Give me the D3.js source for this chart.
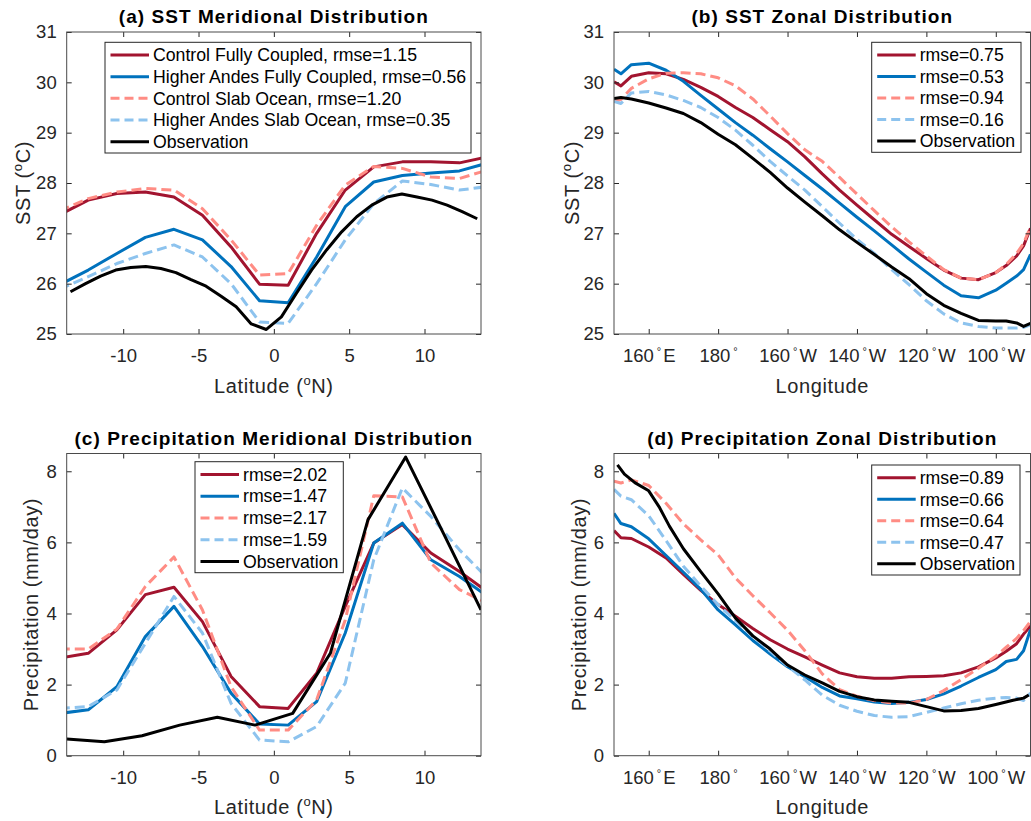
<!DOCTYPE html>
<html>
<head>
<meta charset="utf-8">
<script src="https://cdn.jsdelivr.net/npm/d3@7"></script>
<style>
  body { margin: 0; background: #fff; }
  svg { font-family: "Liberation Sans", Arial, Helvetica, sans-serif; }
</style>
</head>
<body>
<div id="container"></div>
<script>
/* DATA */
// series order: Control Fully Coupled, Higher Andes Fully Coupled, Control Slab Ocean, Higher Andes Slab Ocean, Observation
const seriesNames = ["Control Fully Coupled", "Higher Andes Fully Coupled", "Control Slab Ocean", "Higher Andes Slab Ocean", "Observation"]

// model latitudes (deg N)
const latModel = [-14.21, -12.32, -10.42, -8.53, -6.63, -4.74, -2.84, -0.95, 0.95, 2.84, 4.74, 6.63, 8.53, 10.42, 12.32, 14.21]
const latObsSST = [-13.5, -12.5, -11.5, -10.5, -9.5, -8.5, -7.5, -6.5, -5.5, -4.5, -3.5, -2.5, -1.5, -0.5,
  0.5, 1.5, 2.5, 3.5, 4.5, 5.5, 6.5, 7.5, 8.5, 9.5, 10.5, 11.5, 12.5, 13.5]
const latObsPr = [-13.75, -11.25, -8.75, -6.25, -3.75, -1.25, 1.25, 3.75, 6.25, 8.75, 11.25, 13.75]

// (a) SST meridional
const ctlCplSSTLat = [27.37, 27.66, 27.79, 27.82, 27.72, 27.36, 26.73, 25.99, 25.97, 27.00, 27.86, 28.32, 28.42, 28.42, 28.40, 28.52]
const hiCplSSTLat = [25.98, 26.27, 26.60, 26.92, 27.08, 26.87, 26.34, 25.66, 25.62, 26.53, 27.53, 28.02, 28.15, 28.20, 28.24, 28.40]
const ctlSlabSSTLat = [27.45, 27.69, 27.82, 27.89, 27.86, 27.49, 26.87, 26.17, 26.20, 27.16, 27.96, 28.33, 28.29, 28.12, 28.09, 28.26]
const hiSlabSSTLat = [25.89, 26.14, 26.40, 26.60, 26.77, 26.53, 26.00, 25.24, 25.21, 26.00, 26.87, 27.59, 28.04, 27.97, 27.86, 27.93]
const obsSSTLat = [25.84, 26.00, 26.15, 26.27, 26.32, 26.34, 26.30, 26.22, 26.08, 25.95, 25.75, 25.54, 25.20, 25.09,
  25.34, 25.81, 26.27, 26.67, 27.03, 27.33, 27.56, 27.72, 27.78, 27.72, 27.66, 27.56, 27.43, 27.29]

// (c) precipitation meridional
const ctlCplPrLat = [2.75, 2.88, 3.54, 4.53, 4.74, 3.77, 2.23, 1.38, 1.33, 2.32, 4.20, 5.98, 6.50, 5.70, 5.18, 4.60]
const hiCplPrLat = [1.19, 1.29, 1.94, 3.35, 4.20, 3.07, 1.76, 0.89, 0.86, 1.52, 3.45, 5.98, 6.54, 5.51, 5.04, 4.48]
const ctlSlabPrLat = [3.00, 3.00, 3.56, 4.76, 5.59, 4.10, 1.94, 0.72, 0.72, 1.57, 3.82, 7.31, 7.28, 5.42, 4.67, 4.28]
const hiSlabPrLat = [1.33, 1.38, 1.85, 3.16, 4.48, 3.45, 1.47, 0.44, 0.39, 0.82, 2.04, 5.51, 7.53, 6.73, 5.79, 4.98]
const obsPrLat = [0.47, 0.39, 0.56, 0.86, 1.08, 0.86, 1.19, 2.88, 6.64, 8.40, 6.26, 4.10]

// longitudes (deg E)
const lonModel = [150, 152, 155, 160, 165, 170, 175, 180, 185, 190, 195, 200, 205, 210, 215, 220, 225, 230, 235, 240, 245, 250, 255, 260, 263, 266, 268, 270]
const lonObsPr = [151, 153, 156, 160, 163, 166, 170, 175, 180, 185, 190, 195, 200, 205, 210, 215, 220, 225, 230, 235, 240, 245, 250, 255, 260, 265, 268, 269.5]

// (b) SST zonal
const ctlCplSSTLon = [30.01, 29.93, 30.12, 30.19, 30.17, 30.06, 29.90, 29.72, 29.50, 29.30, 29.06, 28.82, 28.52, 28.18, 27.86, 27.56, 27.27, 26.98, 26.74, 26.50, 26.27, 26.11, 26.08, 26.22, 26.36, 26.55, 26.75, 27.10]
const hiCplSSTLon = [30.26, 30.17, 30.35, 30.38, 30.24, 30.02, 29.74, 29.47, 29.20, 28.95, 28.68, 28.42, 28.15, 27.88, 27.60, 27.32, 27.05, 26.77, 26.49, 26.23, 25.97, 25.76, 25.72, 25.87, 26.01, 26.15, 26.28, 26.58]
const ctlSlabSSTLon = [29.62, 29.66, 29.88, 30.07, 30.18, 30.19, 30.17, 30.09, 29.93, 29.67, 29.33, 28.98, 28.66, 28.43, 28.11, 27.78, 27.45, 27.13, 26.83, 26.55, 26.28, 26.11, 26.08, 26.22, 26.38, 26.60, 26.80, 27.13]
const hiSlabSSTLon = [29.62, 29.58, 29.79, 29.82, 29.75, 29.64, 29.50, 29.30, 29.05, 28.75, 28.43, 28.14, 27.86, 27.53, 27.20, 26.88, 26.60, 26.28, 25.98, 25.66, 25.40, 25.22, 25.15, 25.12, 25.12, 25.12, 25.13, 25.18]
const obsSSTLon = [29.68, 29.70, 29.67, 29.59, 29.49, 29.38, 29.20, 28.97, 28.76, 28.49, 28.21, 27.90, 27.62, 27.35, 27.07, 26.82, 26.58, 26.33, 26.10, 25.80, 25.57, 25.41, 25.27, 25.26, 25.26, 25.22, 25.15, 25.21]

// (d) precipitation zonal
const ctlCplPrLon = [6.33, 6.13, 6.11, 5.87, 5.56, 5.10, 4.65, 4.25, 3.92, 3.58, 3.26, 3.00, 2.78, 2.55, 2.33, 2.22, 2.18, 2.18, 2.22, 2.23, 2.25, 2.33, 2.50, 2.75, 2.94, 3.15, 3.42, 3.65]
const hiCplPrLon = [6.82, 6.53, 6.44, 6.10, 5.63, 5.16, 4.68, 4.10, 3.68, 3.24, 2.86, 2.50, 2.22, 1.92, 1.68, 1.60, 1.51, 1.47, 1.50, 1.58, 1.74, 1.96, 2.20, 2.42, 2.65, 2.71, 2.95, 3.55]
const ctlSlabPrLon = [7.72, 7.67, 7.76, 7.60, 7.10, 6.52, 6.07, 5.65, 5.00, 4.50, 4.02, 3.53, 2.95, 2.30, 1.86, 1.67, 1.55, 1.48, 1.48, 1.58, 1.83, 2.14, 2.46, 2.80, 3.05, 3.30, 3.52, 3.78]
const hiSlabPrLon = [7.49, 7.30, 7.20, 6.75, 6.05, 5.33, 4.77, 4.25, 3.80, 3.36, 2.94, 2.52, 2.13, 1.70, 1.42, 1.25, 1.13, 1.08, 1.10, 1.22, 1.34, 1.46, 1.56, 1.62, 1.64, 1.62, 1.55, 1.76]
const obsPrLon = [8.18, 7.92, 7.68, 7.45, 7.00, 6.45, 5.82, 5.18, 4.55, 3.87, 3.37, 3.00, 2.55, 2.27, 2.05, 1.81, 1.66, 1.57, 1.53, 1.50, 1.38, 1.26, 1.27, 1.33, 1.44, 1.56, 1.62, 1.71]

// rmse values in legends
const rmseA = [1.15, 0.56, 1.20, 0.35]
const rmseB = [0.75, 0.53, 0.94, 0.16]
const rmseC = [2.02, 1.47, 2.17, 1.59]
const rmseD = [0.89, 0.66, 0.64, 0.47]

// ticks
const latTicks = [-10, -5, 0, 5, 10]
const sstTicks = [25, 26, 27, 28, 29, 30, 31]
const prTicks = [0, 2, 4, 6, 8]
const lonTicks = [160, 180, 200, 220, 240, 260]
const lonTickNums = ["160", "180", "160", "140", "120", "100"]
const lonTickHemi = ["E", "", "W", "W", "W", "W"]

/* STYLES */
const lineStyles = [
  {color: "#A2142F", dash: null},
  {color: "#0072BD", dash: null},
  {color: "#FF8C84", dash: "10,5"},
  {color: "#8DC3EE", dash: "10,5"},
  {color: "#000000", dash: null}
]
const axisColor = "#262626"

/* SVG */
const width = 1031, height = 821
const svg = d3.select("#container")
  .append("svg")
  .attr("width", width)
  .attr("height", height)

svg.append("rect").attr("width", width).attr("height", height).attr("fill", "#fff")

const panels = [
  {
    id: "a", box: {left: 66.7, right: 481, top: 32, bottom: 334},
    xDomain: [-13.75, 13.75], yDomain: [25, 31], xTicks: latTicks, yTicks: sstTicks, lon: false,
    title: "(a) SST Meridional Distribution", xLabel: "lat", yLabel: "sst", yLabelX: 30,
    xs: [latModel, latModel, latModel, latModel, latObsSST],
    ys: [ctlCplSSTLat, hiCplSSTLat, ctlSlabSSTLat, hiSlabSSTLat, obsSSTLat],
    legendText: seriesNames.slice(0, 4).map((n, i) => `${n}, rmse=${rmseA[i].toFixed(2)}`).concat(["Observation"]),
    legend: {left: 105, right: 471, top: 42.3, bottom: 153}
  },
  {
    id: "b", box: {left: 614, right: 1030.5, top: 32, bottom: 334},
    xDomain: [150, 270], yDomain: [25, 31], xTicks: lonTicks, yTicks: sstTicks, lon: true,
    title: "(b) SST Zonal Distribution", xLabel: "lon", yLabel: "sst", yLabelX: 579,
    xs: [lonModel, lonModel, lonModel, lonModel, lonModel],
    ys: [ctlCplSSTLon, hiCplSSTLon, ctlSlabSSTLon, hiSlabSSTLon, obsSSTLon],
    legendText: rmseB.map(r => `rmse=${r.toFixed(2)}`).concat(["Observation"]),
    legend: {left: 871.7, right: 1021, top: 42.3, bottom: 152.3}
  },
  {
    id: "c", box: {left: 66.7, right: 481, top: 453.5, bottom: 755.7},
    xDomain: [-13.75, 13.75], yDomain: [0, 8.5], xTicks: latTicks, yTicks: prTicks, lon: false,
    title: "(c) Precipitation Meridional Distribution", xLabel: "lat", yLabel: "pr", yLabelX: 38,
    xs: [latModel, latModel, latModel, latModel, latObsPr],
    ys: [ctlCplPrLat, hiCplPrLat, ctlSlabPrLat, hiSlabPrLat, obsPrLat],
    legendText: rmseC.map(r => `rmse=${r.toFixed(2)}`).concat(["Observation"]),
    legend: {left: 195, right: 343.3, top: 461.7, bottom: 572.7}
  },
  {
    id: "d", box: {left: 614, right: 1030.5, top: 453.5, bottom: 755.7},
    xDomain: [150, 270], yDomain: [0, 8.5], xTicks: lonTicks, yTicks: prTicks, lon: true,
    title: "(d) Precipitation Zonal Distribution", xLabel: "lon", yLabel: "pr", yLabelX: 586,
    xs: [lonModel, lonModel, lonModel, lonModel, lonObsPr],
    ys: [ctlCplPrLon, hiCplPrLon, ctlSlabPrLon, hiSlabPrLon, obsPrLon],
    legendText: rmseD.map(r => `rmse=${r.toFixed(2)}`).concat(["Observation"]),
    legend: {left: 871.7, right: 1020, top: 465, bottom: 575}
  }
]

// label with a superscript "o"
function supLabel(sel, before, sup, after) {
  sel.text(before)
  sel.append("tspan").attr("dy", -8).attr("font-size", 13).text(sup)
  sel.append("tspan").attr("dy", 8).text(after)
}

const plainNum = d => String(d)

panels.forEach(p => {
  const b = p.box
  const xScale = d3.scaleLinear().domain(p.xDomain).range([b.left, b.right])
  const yScale = d3.scaleLinear().domain(p.yDomain).range([b.bottom, b.top])
  const g = svg.append("g").attr("class", "panel-" + p.id)

  // clip
  g.append("clipPath").attr("id", "clip-" + p.id)
    .append("rect")
    .attr("x", b.left).attr("y", b.top)
    .attr("width", b.right - b.left).attr("height", b.bottom - b.top)

  // LINES
  const lineGen = d3.line()
    .x(d => xScale(d[0]))
    .y(d => yScale(d[1]))

  const lineData = p.xs.map((xs, i) => xs.map((x, j) => [x, p.ys[i][j]]))
  g.append("g").attr("clip-path", `url(#clip-${p.id})`)
    .selectAll(".line")
    .data(lineData)
    .join("path")
    .attr("class", "line")
    .attr("d", d => lineGen(d))
    .attr("fill", "none")
    .attr("stroke", (d, i) => lineStyles[i].color)
    .attr("stroke-width", 3)
    .attr("stroke-dasharray", (d, i) => lineStyles[i].dash)
    .attr("stroke-linejoin", "round")

  // AXES
  const xAxis = g.append("g")
    .attr("transform", `translate(0,${b.bottom})`)
    .call(d3.axisBottom(xScale).tickValues(p.xTicks).tickFormat(plainNum).tickSize(-5).tickSizeOuter(0).tickPadding(15))
  const yAxis = g.append("g")
    .attr("transform", `translate(${b.left},0)`)
    .call(d3.axisLeft(yScale).tickValues(p.yTicks).tickFormat(plainNum).tickSize(-5).tickSizeOuter(0).tickPadding(10))
  const xTop = g.append("g")
    .attr("transform", `translate(0,${b.top})`)
    .call(d3.axisTop(xScale).tickValues(p.xTicks).tickSize(-5).tickSizeOuter(0).tickFormat(""))
  const yRight = g.append("g")
    .attr("transform", `translate(${b.right},0)`)
    .call(d3.axisRight(yScale).tickValues(p.yTicks).tickSize(-5).tickSizeOuter(0).tickFormat(""))

  ;[xAxis, yAxis, xTop, yRight].forEach(a => {
    a.select(".domain").remove()
    a.selectAll(".tick line").attr("stroke", axisColor)
    a.attr("font-size", 18.5).attr("font-family", null)
    a.selectAll(".tick text").attr("fill", axisColor)
  })

  if (p.lon) {
    xAxis.selectAll(".tick text").each(function(d, i) {
      const t = d3.select(this)
      t.text(lonTickNums[i])
      t.append("tspan").attr("dx", 3).attr("dy", -7).attr("font-size", 11).text("°")
      if (lonTickHemi[i]) t.append("tspan").attr("dx", 2).attr("dy", 7).text(lonTickHemi[i])
    })
  }

  // frame
  g.append("rect")
    .attr("x", b.left).attr("y", b.top)
    .attr("width", b.right - b.left).attr("height", b.bottom - b.top)
    .attr("fill", "none").attr("stroke", "#4a4a4a").attr("stroke-width", 1)

  // TITLE
  g.append("text")
    .attr("x", (b.left + b.right) / 2).attr("y", b.top - 9)
    .attr("text-anchor", "middle")
    .attr("font-size", 19).attr("font-weight", "bold")
    .attr("letter-spacing", 1.05)
    .attr("fill", "#000")
    .text(p.title)

  // AXIS LABELS
  const xl = g.append("text")
    .attr("x", (b.left + b.right) / 2).attr("y", b.bottom + 58.5)
    .attr("text-anchor", "middle").attr("font-size", 20).attr("letter-spacing", 0.6)
    .attr("fill", axisColor)
  if (p.xLabel === "lat") supLabel(xl, "Latitude (", "o", "N)")
  else xl.text("Longitude")

  const yl = g.append("text")
    .attr("transform", `translate(${p.yLabelX},${(b.top + b.bottom) / 2}) rotate(-90)`)
    .attr("text-anchor", "middle").attr("font-size", 20).attr("letter-spacing", 0.6)
    .attr("fill", axisColor)
  if (p.yLabel === "sst") supLabel(yl, "SST (", "o", "C)")
  else yl.text("Precipitation (mm/day)")

  // LEGEND
  const L = p.legend
  const lg = g.append("g")
  lg.append("rect")
    .attr("x", L.left).attr("y", L.top)
    .attr("width", L.right - L.left).attr("height", L.bottom - L.top)
    .attr("fill", "#fff").attr("stroke", axisColor).attr("stroke-width", 1)
  const rowH = (L.bottom - L.top - 24) / 4
  const rows = lg.selectAll(".row")
    .data(p.legendText)
    .join("g")
    .attr("class", "row")
    .attr("transform", (d, i) => `translate(${L.left},${L.top + 12.7 + i * rowH})`)
  rows.append("line")
    .attr("x1", 5.5).attr("x2", 44)
    .attr("stroke", (d, i) => lineStyles[i].color)
    .attr("stroke-width", 3)
    .attr("stroke-dasharray", (d, i) => lineStyles[i].dash ? "9,5" : null)
  rows.append("text")
    .attr("x", 48).attr("y", 6.3)
    .attr("font-size", 17.7)
    .attr("fill", "#000")
    .text(d => d)
})
</script>
</body>
</html>
